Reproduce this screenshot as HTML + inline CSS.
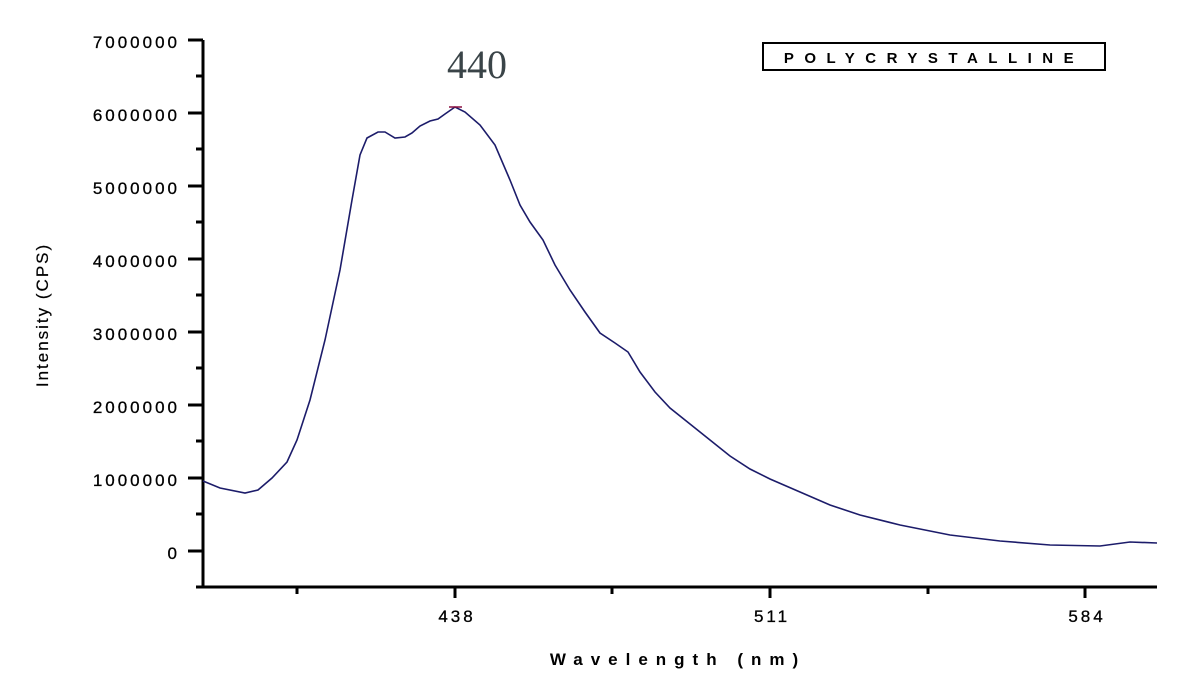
<!DOCTYPE html>
<html><head><meta charset="utf-8"><style>
html,body{margin:0;padding:0;background:#fff;}
</style></head><body>
<svg width="1182" height="690" viewBox="0 0 1182 690" xmlns="http://www.w3.org/2000/svg" font-family="Liberation Sans, sans-serif">
<g stroke="#000" stroke-width="3" fill="none">
<line x1="203" y1="40" x2="203" y2="588"/>
<line x1="196" y1="587" x2="1157" y2="587"/>
<line x1="188" y1="40" x2="203" y2="40"/>
<line x1="188" y1="113" x2="203" y2="113"/>
<line x1="188" y1="186" x2="203" y2="186"/>
<line x1="188" y1="259" x2="203" y2="259"/>
<line x1="188" y1="332" x2="203" y2="332"/>
<line x1="188" y1="405" x2="203" y2="405"/>
<line x1="188" y1="478" x2="203" y2="478"/>
<line x1="188" y1="551" x2="203" y2="551"/>
<line x1="196" y1="76" x2="203" y2="76"/>
<line x1="196" y1="149" x2="203" y2="149"/>
<line x1="196" y1="222" x2="203" y2="222"/>
<line x1="196" y1="295" x2="203" y2="295"/>
<line x1="196" y1="368" x2="203" y2="368"/>
<line x1="196" y1="441" x2="203" y2="441"/>
<line x1="196" y1="514" x2="203" y2="514"/>
<line x1="297" y1="587" x2="297" y2="594"/>
<line x1="455" y1="587" x2="455" y2="598"/>
<line x1="612" y1="587" x2="612" y2="594"/>
<line x1="770" y1="587" x2="770" y2="598"/>
<line x1="928" y1="587" x2="928" y2="594"/>
<line x1="1085" y1="587" x2="1085" y2="598"/>
</g>
<g font-size="17" fill="#000" text-anchor="end" letter-spacing="3" stroke="#000" stroke-width="0.3">
<text x="180" y="48">7000000</text>
<text x="180" y="121">6000000</text>
<text x="180" y="194">5000000</text>
<text x="180" y="267">4000000</text>
<text x="180" y="340">3000000</text>
<text x="180" y="413">2000000</text>
<text x="180" y="486">1000000</text>
<text x="180" y="559">0</text>
</g>
<g font-size="17" fill="#000" text-anchor="middle" letter-spacing="3" stroke="#000" stroke-width="0.3">
<text x="457" y="622">438</text>
<text x="772" y="622">511</text>
<text x="1087" y="622">584</text>
</g>
<text x="678" y="665" font-size="17" font-weight="bold" text-anchor="middle" letter-spacing="8">Wavelength (nm)</text>
<text transform="translate(48,315) rotate(-90)" font-size="17" text-anchor="middle" letter-spacing="2" stroke="#000" stroke-width="0.2">Intensity (CPS)</text>
<rect x="763" y="43" width="342" height="27" fill="none" stroke="#000" stroke-width="2"/>
<text x="934" y="63" font-size="15" font-weight="bold" text-anchor="middle" letter-spacing="10.5">POLYCRYSTALLINE</text>
<text x="477" y="78" font-size="40" font-family="Liberation Serif, serif" fill="#3a4448" text-anchor="middle">440</text>
<polyline fill="none" stroke="#1c1c6a" stroke-width="1.6" points="203,481 220,488 245,493 258,490 272,478 287,462 297,440 310,400 325,340 340,270 352,200 360,155 367,138 378,132 385,132 395,138 405,137 412,133 420,126 430,121 438,119 445,114 455,107 465,112 480,125 495,145 510,180 520,205 530,222 543,240 555,265 570,290 585,312 600,333 615,343 628,352 640,372 655,392 670,408 690,424 710,440 730,456 750,469 770,479 800,492 830,505 860,515 900,525 950,535 1000,541 1050,545 1100,546 1130,542 1157,543"/>
<line x1="449" y1="107" x2="462" y2="107" stroke="#8a1040" stroke-width="1.5"/>
</svg>
</body></html>
